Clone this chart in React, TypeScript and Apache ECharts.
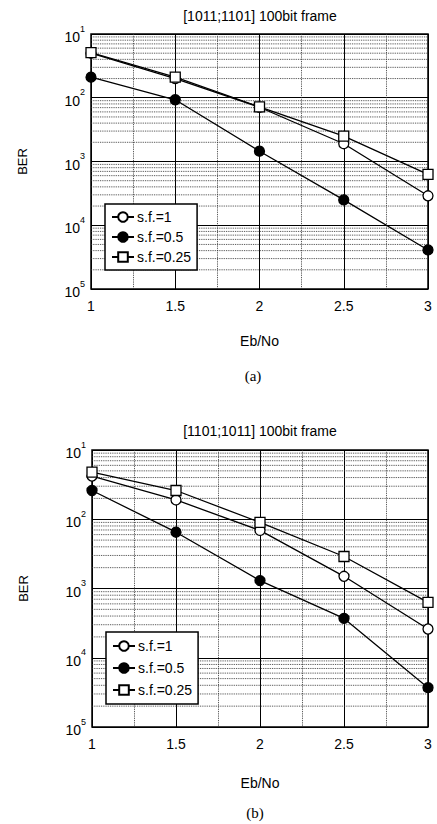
import React, { useEffect, useRef } from 'react';
import * as echarts from 'echarts';

const ebNo = [1, 1.5, 2, 2.5, 3];
const legendNames = ['s.f.=1', 's.f.=0.5', 's.f.=0.25'];
const berA_sf1 = [0.05, 0.02, 0.0071, 0.0019, 0.00029];
const berA_sf05 = [0.021, 0.0093, 0.00145, 0.00025, 0.000041];
const berA_sf025 = [0.051, 0.021, 0.0072, 0.0025, 0.00063];
const berB_sf1 = [0.042, 0.019, 0.0069, 0.0015, 0.00026];
const berB_sf05 = [0.026, 0.0065, 0.0013, 0.00037, 0.000037];
const berB_sf025 = [0.048, 0.026, 0.009, 0.0029, 0.00063];
const titles = ['[1011;1101] 100bit frame', '[1101;1011] 100bit frame'];
const captions = ['(a)', '(b)'];
const xAxisName = 'Eb/No';
const yAxisName = 'BER';
const minorMultipliers = [2, 3, 4, 5, 6, 7, 8, 9];
const decades = [1e-5, 1e-4, 1e-3, 1e-2];

const FONT = '"Liberation Sans", Arial, sans-serif';

const grids = [
  { left: 91, top: 34, width: 337, height: 255 },
  { left: 92, top: 450, width: 336, height: 277 },
];

// minor log gridlines (2..9 x each decade), drawn as broken line segments across the x range
const minorGridData: any[] = [];
decades.forEach((d) =>
  minorMultipliers.forEach((m) => {
    minorGridData.push([1, d * m], [3, d * m], [2, '-']);
  })
);

function makeSeries(gi: number, sets: number[][]) {
  const styles = [
    { symbol: 'circle', fill: '#fff' },
    { symbol: 'circle', fill: '#000' },
    { symbol: 'rect', fill: '#fff' },
  ];
  const out: any[] = [
    {
      type: 'line',
      xAxisIndex: gi,
      yAxisIndex: gi,
      data: minorGridData,
      silent: true,
      showSymbol: false,
      symbol: 'none',
      connectNulls: false,
      lineStyle: { color: '#333', type: 'dotted', width: 0.9 },
      z: 1,
    },
  ];
  sets.forEach((vals, i) =>
    out.push({
      name: legendNames[i],
      type: 'line',
      xAxisIndex: gi,
      yAxisIndex: gi,
      data: ebNo.map((x, k) => [x, vals[k]]),
      symbol: styles[i].symbol,
      symbolSize: 10,
      showSymbol: true,
      lineStyle: { color: '#000', width: 1.3 },
      itemStyle: { color: styles[i].fill, borderColor: '#000', borderWidth: 1.3 },
      z: 5 + i,
    })
  );
  return out;
}

export default function App() {
  const ref = useRef<HTMLDivElement>(null);
  useEffect(() => {
    if (!ref.current) return;
    const chart = echarts.init(ref.current, null, { renderer: 'svg' });
    const xAxes = grids.map((_, gi) => ({
      type: 'value',
      gridIndex: gi,
      min: 1,
      max: 3,
      interval: 0.5,
      name: xAxisName,
      nameLocation: 'middle',
      nameGap: gi === 0 ? 45 : 49,
      nameTextStyle: { color: '#000', fontSize: 14, fontFamily: FONT },
      axisLine: { show: false },
      axisTick: { show: true, inside: true, length: 4, lineStyle: { color: '#000' } },
      axisLabel: {
        color: '#000',
        fontSize: 14,
        fontFamily: FONT,
        margin: 10,
        formatter: (v: number) => String(v),
      },
      splitLine: { show: true, lineStyle: { color: '#000', width: 1, type: 'solid' } },
      minorSplitLine: { show: true, lineStyle: { color: '#333', type: 'dotted', width: 0.9 } },
      minorTick: { show: false, splitNumber: 2 },
    }));
    const yAxes = grids.map((_, gi) => ({
      type: 'log',
      logBase: 10,
      gridIndex: gi,
      min: 1e-5,
      max: 1e-1,
      name: yAxisName,
      nameLocation: 'middle',
      nameGap: 62,
      nameRotate: 90,
      nameTextStyle: { color: '#000', fontSize: 13, fontFamily: FONT },
      axisLine: { show: false },
      axisTick: { show: false },
      axisLabel: {
        margin: 6,
        formatter: (v: number) => `{b|10}{s|${Math.round(-Math.log10(v))}}`,
        rich: {
          b: { fontSize: 14, fontFamily: FONT, color: '#000', lineHeight: 20, verticalAlign: 'bottom' },
          s: { fontSize: 9, fontFamily: FONT, color: '#000', verticalAlign: 'top' },
        },
      },
      splitLine: { show: true, lineStyle: { color: '#000', width: 1.2, type: 'solid' } },
    }));
    const series: any[] = [
      ...makeSeries(0, [berA_sf1, berA_sf05, berA_sf025]),
      ...makeSeries(1, [berB_sf1, berB_sf05, berB_sf025]),
    ];
    const legendCommon = {
      orient: 'vertical',
      data: legendNames,
      backgroundColor: '#fff',
      borderColor: '#000',
      borderWidth: 1.5,
      borderRadius: 0,
      itemWidth: 22,
      itemHeight: 12,
      itemGap: 6,
      selectedMode: false,
      textStyle: { color: '#000', fontSize: 14, fontFamily: FONT, padding: [0, 0, 0, -2] },
      z: 20,
    };
    chart.setOption({
      animation: false,
      backgroundColor: '#fff',
      grid: grids.map((g) => ({
        ...g,
        show: true,
        borderColor: '#000',
        borderWidth: 1.5,
        backgroundColor: '#fff',
        containLabel: false,
      })),
      xAxis: xAxes,
      yAxis: yAxes,
      legend: [
        { ...legendCommon, left: 105, top: 204, padding: [6, 6, 6, 6] },
        { ...legendCommon, left: 106, top: 632, itemGap: 8, padding: [7, 6, 7, 6] },
      ],
      graphic: [
        { type: 'text', x: 260, y: 9, style: { text: titles[0], fill: '#000', font: `14px ${FONT}`, textAlign: 'center' } },
        { type: 'text', x: 260, y: 424, style: { text: titles[1], fill: '#000', font: `14px ${FONT}`, textAlign: 'center' } },
        { type: 'text', x: 253, y: 368, style: { text: captions[0], fill: '#000', font: `15px "Liberation Serif", serif`, textAlign: 'center' } },
        { type: 'text', x: 255, y: 805, style: { text: captions[1], fill: '#000', font: `15px "Liberation Serif", serif`, textAlign: 'center' } },
      ],
      series,
    });
    return () => chart.dispose();
  }, []);
  return <div ref={ref} style={{ position: 'absolute', left: 0, top: 0, width: 437, height: 824 }} />;
}
